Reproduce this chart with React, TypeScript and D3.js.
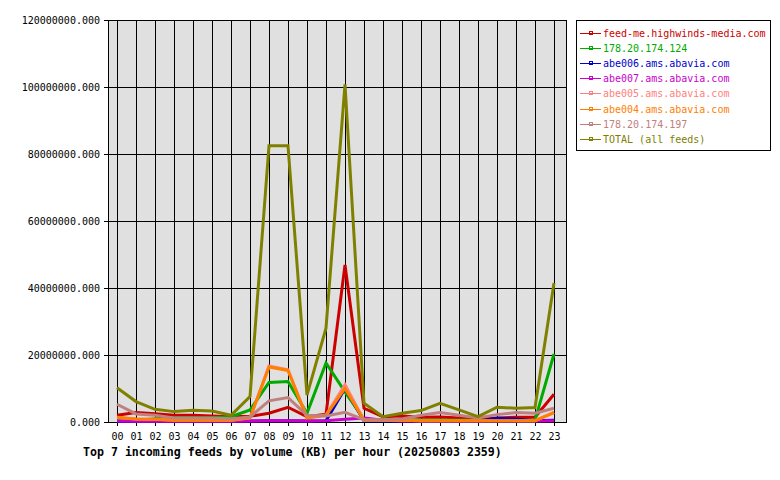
import React from "react";
import * as d3 from "d3";

const hours = ["00","01","02","03","04","05","06","07","08","09","10","11","12","13","14","15","16","17","18","19","20","21","22","23"];
const yTicks = [0, 20000000, 40000000, 60000000, 80000000, 100000000, 120000000];

const seriesNames = [
  "feed-me.highwinds-media.com",
  "178.20.174.124",
  "abe006.ams.abavia.com",
  "abe007.ams.abavia.com",
  "abe005.ams.abavia.com",
  "abe004.ams.abavia.com",
  "178.20.174.197",
  "TOTAL (all feeds)",
];
const seriesColors = ["#cc0000", "#00aa00", "#0000cc", "#cc00cc", "#ff8080", "#ff8000", "#c08080", "#808000"];

// values in millions of KB
const feedMe = [2.0, 2.8, 2.5, 2.0, 2.0, 1.8, 1.6, 1.7, 2.6, 4.4, 1.6, 2.3, 46.9, 4.1, 1.6, 1.8, 1.4, 1.5, 1.2, 0.8, 1.2, 1.4, 1.4, 8.3];
const ip124 = [0.5, 0.4, 1.0, 1.3, 1.3, 1.3, 1.6, 3.6, 11.8, 12.1, 2.6, 17.6, 9.0, 0.8, 0.6, 0.6, 0.6, 0.6, 0.6, 0.5, 0.6, 0.6, 0.5, 20.3];
const abe006 = [0.2, 0.2, 0.2, 0.2, 0.2, 0.2, 0.2, 0.3, 0.4, 0.4, 0.3, 0.4, 10.0, 0.4, 0.3, 0.3, 0.3, 0.3, 0.3, 0.3, 1.1, 0.9, 0.4, 0.5];
const abe007 = [0.3, 0.2, 0.2, 0.2, 0.2, 0.2, 0.2, 0.3, 0.4, 0.4, 0.3, 0.4, 0.8, 1.2, 0.5, 0.3, 0.3, 0.3, 0.3, 0.3, 0.3, 0.3, 0.3, 0.4];
const abe005 = [1.3, 0.9, 0.8, 0.5, 0.5, 0.5, 0.5, 1.2, 16.7, 15.6, 1.3, 2.1, 11.1, 0.5, 0.5, 0.5, 0.4, 0.4, 0.4, 0.4, 0.4, 0.4, 0.4, 2.9];
const abe004 = [1.4, 0.9, 0.8, 0.5, 0.5, 0.5, 0.5, 1.2, 16.4, 15.4, 1.2, 2.0, 10.0, 0.5, 0.5, 0.5, 0.4, 0.4, 0.4, 0.4, 0.4, 0.4, 0.4, 2.8];
const ip197 = [5.3, 2.4, 2.0, 1.2, 1.2, 1.2, 1.0, 1.5, 6.3, 7.3, 2.0, 1.8, 2.9, 0.7, 0.7, 0.9, 2.0, 2.8, 2.0, 1.2, 2.2, 2.8, 2.6, 4.1];
const total = [10.2, 6.1, 3.8, 3.1, 3.5, 3.3, 2.0, 7.6, 82.5, 82.5, 8.0, 28.0, 100.8, 5.6, 1.6, 2.6, 3.4, 5.6, 3.6, 1.6, 4.4, 4.1, 4.3, 41.5];

const seriesValues = [feedMe, ip124, abe006, abe007, abe005, abe004, ip197, total];

const titleText = "Top 7 incoming feeds by volume (KB) per hour (20250803 2359)";

export default function App() {
  const W = 780, H = 480;
  const left = 108, right = 566, top = 20, bottom = 422;
  const x = d3.scaleLinear().domain([0, 23]).range([117, 554]);
  const y = d3.scaleLinear().domain([0, 120000000]).range([bottom, top]);
  const fmt = d3.format(".3f");
  const line = d3
    .line<number>()
    .x((_, i) => x(i))
    .y((v) => y(v * 1000000));
  const mono = "'DejaVu Sans Mono', 'Liberation Mono', monospace";

  return (
    <svg
      width={W}
      height={H}
      style={{ position: "absolute", left: 0, top: 0, background: "#ffffff" }}
      fontFamily={mono}
    >
      <rect x={0} y={0} width={W} height={H} fill="#ffffff" />
      <rect x={left} y={top} width={right - left} height={bottom - top} fill="#e0e0e0" />
      {yTicks.map((t) => (
        <g key={"y" + t}>
          <line x1={left - 4} x2={right} y1={Math.round(y(t)) + 0.5} y2={Math.round(y(t)) + 0.5} stroke="#000" strokeWidth={1} />
          <text x={100} y={Math.round(y(t)) + 3.5} fontSize={10} textAnchor="end" fill="#000">
            {fmt(t)}
          </text>
        </g>
      ))}
      {hours.map((h, i) => (
        <g key={"x" + h}>
          <line x1={Math.round(x(i)) + 0.5} x2={Math.round(x(i)) + 0.5} y1={top} y2={bottom + 4} stroke="#000" strokeWidth={1} />
          <text x={Math.round(x(i)) + 0.5} y={440} fontSize={10} textAnchor="middle" fill="#000">
            {h}
          </text>
        </g>
      ))}
      <rect x={left + 0.5} y={top + 0.5} width={right - left} height={bottom - top} fill="none" stroke="#000" strokeWidth={1} />
      {seriesValues.map((vals, si) => (
        <path
          key={"s" + si}
          d={line(vals) || ""}
          fill="none"
          stroke={seriesColors[si]}
          strokeWidth={3}
          strokeLinejoin="miter"
        />
      ))}
      <text x={83} y={456} fontSize={11.6} fontWeight="bold" fill="#000">
        {titleText}
      </text>
      <rect x={576.5} y={20.5} width={194} height={130} fill="#ffffff" stroke="#000" strokeWidth={1} />
      {seriesNames.map((name, i) => {
        const ly = Math.round(33 + i * 15.1);
        return (
          <g key={"l" + i}>
            <line x1={580} x2={601} y1={ly + 0.5} y2={ly + 0.5} stroke={seriesColors[i]} strokeWidth={1} shapeRendering="crispEdges" />
            <rect x={589} y={ly - 2} width={3} height={3} fill="none" stroke={seriesColors[i]} strokeWidth={1} shapeRendering="crispEdges" />
            <text x={603} y={ly + 3.5} fontSize={10} fill={seriesColors[i]}>
              {name}
            </text>
          </g>
        );
      })}
    </svg>
  );
}
